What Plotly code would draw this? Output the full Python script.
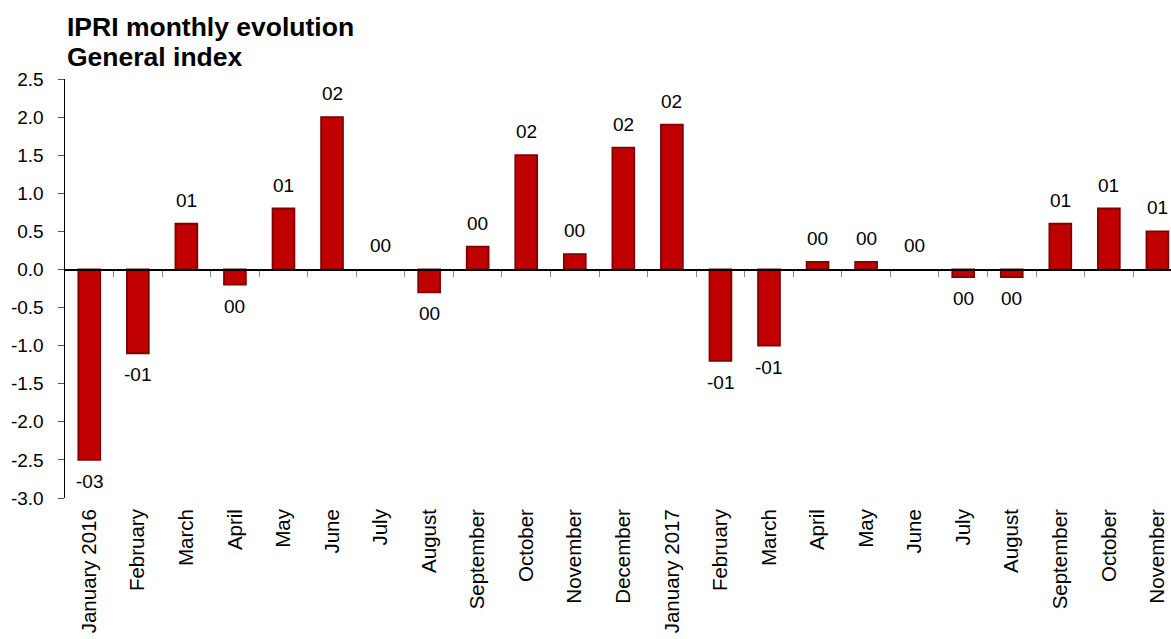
import plotly.graph_objects as go

categories = ["January 2016", "February", "March", "April", "May", "June", "July",
              "August", "September", "October", "November", "December", "January 2017",
              "February", "March", "April", "May", "June", "July", "August",
              "September", "October", "November"]
values = [-2.5, -1.1, 0.6, -0.2, 0.8, 2.0, 0.0, -0.3, 0.3, 1.5, 0.2, 1.6, 1.9,
          -1.2, -1.0, 0.1, 0.1, 0.0, -0.1, -0.1, 0.6, 0.8, 0.5]
bar_labels = ["-03", "-01", "01", "00", "01", "02", "00", "00", "00", "02", "00", "02", "02",
              "-01", "-01", "00", "00", "00", "00", "00", "01", "01", "01"]
y_ticks = [-3.0, -2.5, -2.0, -1.5, -1.0, -0.5, 0.0, 0.5, 1.0, 1.5, 2.0, 2.5]
title_lines = ["IPRI monthly evolution", "General index"]

FONT = "Liberation Sans, Arial, sans-serif"
x_idx = list(range(len(categories)))
x_range = [-0.5, 22.28]
y_range = [-3.0, 2.5]

# zero-height bars get no outline (nothing visible in the reference)
outline_widths = [0 if v == 0 else 1.8 for v in values]

fig = go.Figure()
fig.add_trace(go.Bar(
    x=x_idx, y=values, width=0.45,
    marker=dict(color="#C00000", line=dict(color="#7F0000", width=outline_widths)),
    hoverinfo="skip", showlegend=False,
))
# helper trace carrying the zero-line axis
fig.add_trace(go.Scatter(
    x=x_idx, y=values, xaxis="x2", mode="markers",
    marker=dict(opacity=0, size=1), hoverinfo="skip", showlegend=False,
))

annotations = []
for i, (v, lab) in enumerate(zip(values, bar_labels)):
    if v >= 0:
        annotations.append(dict(x=i, y=v, xref="x", yref="y", text=lab, showarrow=False,
                                yanchor="bottom", yshift=11,
                                font=dict(family=FONT, size=19, color="black")))
    else:
        annotations.append(dict(x=i, y=v, xref="x", yref="y", text=lab, showarrow=False,
                                yanchor="top", yshift=-9,
                                font=dict(family=FONT, size=19, color="black")))

annotations.append(dict(x=0, y=1.083, xref="paper", yref="paper", text="<b>%s</b>" % title_lines[0],
                        showarrow=False, xanchor="left", yanchor="bottom",
                        font=dict(family=FONT, size=26.5, color="black")))
annotations.append(dict(x=0, y=1.012, xref="paper", yref="paper", text="<b>%s</b>" % title_lines[1],
                        showarrow=False, xanchor="left", yanchor="bottom",
                        font=dict(family=FONT, size=26.5, color="black")))

fig.update_layout(
    width=1171, height=639,
    margin=dict(l=65, r=0, t=79, b=141, autoexpand=False),
    paper_bgcolor="white", plot_bgcolor="white",
    font=dict(family=FONT, size=19, color="black"),
    bargap=0.5,
    xaxis=dict(
        range=x_range, tickmode="array", tickvals=x_idx, ticktext=categories,
        tickangle=-90, ticks="", showline=False, showgrid=False, zeroline=False,
        tickfont=dict(family=FONT, size=20.5, color="black"), ticklabelstandoff=6,
        fixedrange=True,
    ),
    xaxis2=dict(
        overlaying="x", anchor="free", position=3.0 / 5.5, side="bottom",
        range=x_range, tickmode="array", tickvals=[i + 0.5 for i in x_idx[:-1]],
        showticklabels=False, ticks="outside", ticklen=6, tickcolor="#888888", tickwidth=1,
        showline=True, linecolor="black", linewidth=1.5, showgrid=False, zeroline=False,
        fixedrange=True,
    ),
    yaxis=dict(
        range=y_range, tickmode="array", tickvals=y_ticks,
        ticktext=[f"{v:.1f}" for v in y_ticks],
        showline=True, linecolor="black", linewidth=1.5,
        ticks="outside", ticklen=6, tickcolor="#555555",
        showgrid=False, zeroline=False, ticklabelstandoff=10,
        tickfont=dict(family=FONT, size=19, color="black"),
        fixedrange=True,
    ),
    annotations=annotations,
)

# remove the browser's default page margin so the figure fills the window exactly
fig.write_html(
    "out.html",
    config={"displayModeBar": False, "staticPlot": True},
    post_script="document.body.style.margin='0';document.body.style.overflow='hidden';",
)
